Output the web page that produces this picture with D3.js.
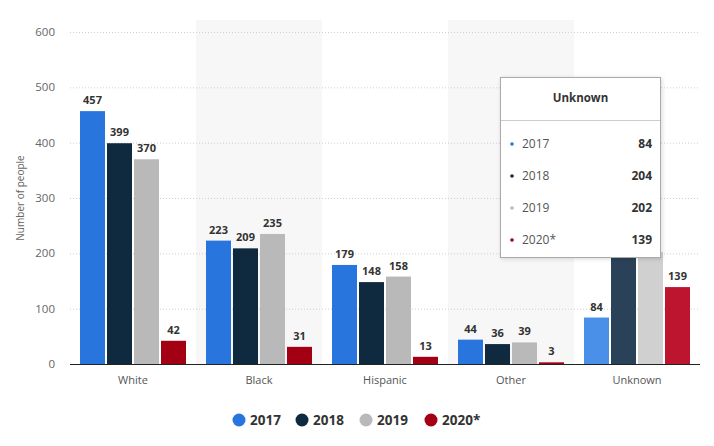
<!DOCTYPE html>
<html><head><meta charset="utf-8">
<script src="https://cdn.jsdelivr.net/npm/d3@7"></script>
<style>
body{margin:0;background:#fff;font-family:"Open Sans",sans-serif;}
svg{display:block}
</style></head>
<body>
<svg id="c" width="714" height="446"></svg>
<script>
const categories = ["White","Black","Hispanic","Other","Unknown"];
const seriesNames = ["2017","2018","2019","2020*"];
const v2017 = [457,223,179,44,84];
const v2018 = [399,209,148,36,204];
const v2019 = [370,235,158,39,202];
const v2020 = [42,31,13,3,139];
const yTicks = [0,100,200,300,400,500,600];
const colors = ["#2876dd","#0f2a3f","#b9b9b9","#a30014"];
const hoverColors = ["#4a90e8","#2a4257","#d0d0d0","#bd1430"];
const hovered = "Unknown";
const series = [v2017,v2018,v2019,v2020];

const svg = d3.select("#c");
const m = {l:70, r:700, t:32, b:364};
const x = d3.scaleBand().domain(categories).range([m.l,m.r]);
const y = d3.scaleLinear().domain([0,600]).range([m.b,m.t]);
const inner = d3.scaleBand().domain(seriesNames).range([0,106]).paddingInner(0.074);
const tip = {x:500.5, y:77.5, w:160, h:180};

// alternating bands
svg.selectAll("rect.bg").data(categories.filter((d,i)=>i%2===1)).enter()
  .append("rect").attr("x",d=>x(d)).attr("y",m.t-12).attr("width",x.bandwidth())
  .attr("height",m.b-m.t+12).attr("fill","#f7f7f7");

// grid
svg.selectAll("line.g").data(yTicks.filter(d=>d>0)).enter().append("line")
  .attr("x1",m.l).attr("x2",m.r).attr("y1",d=>y(d)+0.5).attr("y2",d=>y(d)+0.5)
  .attr("stroke","#cfcfcf").attr("stroke-dasharray","1,2");

// y labels
svg.selectAll("text.yt").data(yTicks).enter().append("text")
  .attr("x",55).attr("y",d=>y(d)+4).attr("text-anchor","end")
  .attr("font-size",11.5).attr("fill","#666").text(d=>d);

svg.append("text").attr("transform",`translate(24,${(m.t+m.b)/2}) rotate(-90)`)
  .attr("text-anchor","middle").attr("font-size",10).attr("fill","#666").text("Number of people");

// bars
const off = (m.r-m.l)/5/2 - 53;
series.forEach((vals,si)=>{
  const g = svg.append("g");
  const data = categories.map((c,i)=>({c,v:vals[i]}));
  g.selectAll("rect").data(data).enter().append("rect")
    .attr("x",d=>x(d.c)+off+inner(seriesNames[si]))
    .attr("y",d=>y(d.v)).attr("width",inner.bandwidth())
    .attr("height",d=>y(0)-y(d.v))
    .attr("fill",d=>d.c===hovered?hoverColors[si]:colors[si]);
  // labels (those hidden beneath the tooltip are not drawn)
  const lx = d=>x(d.c)+off+inner(seriesNames[si])+inner.bandwidth()/2;
  const ly = d=>y(d.v)-7;
  g.selectAll("text").data(data.filter(d=>!(lx(d)>tip.x && lx(d)<tip.x+tip.w && ly(d)>tip.y && ly(d)<tip.y+tip.h+8))).enter().append("text")
    .attr("x",lx).attr("y",ly).attr("text-anchor","middle")
    .attr("font-size",11).attr("font-weight","bold").attr("fill","#333").text(d=>d.v);
});

// axis line
svg.append("line").attr("x1",m.l).attr("x2",m.r).attr("y1",y(0)+0.5).attr("y2",y(0)+0.5)
  .attr("stroke","#222").attr("stroke-width",1);

// x labels
svg.selectAll("text.xl").data(categories).enter().append("text")
  .attr("x",d=>x(d)+x.bandwidth()/2).attr("y",384).attr("text-anchor","middle")
  .attr("font-size",11).attr("fill","#555").text(d=>d);

// legend
const legX = [239,302,366,431];
const leg = svg.append("g");
seriesNames.forEach((s,i)=>{
  leg.append("circle").attr("cx",legX[i]).attr("cy",420).attr("r",6.5).attr("fill",colors[i]);
  leg.append("text").attr("x",legX[i]+11).attr("y",425).attr("font-size",13.5)
    .attr("font-weight","bold").attr("fill","#333").text(s);
});

// tooltip
const tt = svg.append("g");
const defs = svg.append("defs");
const f = defs.append("filter").attr("id","sh").attr("x","-10%").attr("y","-10%").attr("width","130%").attr("height","130%");
f.append("feDropShadow").attr("dx",1).attr("dy",1).attr("stdDeviation",2).attr("flood-color","#000").attr("flood-opacity",0.15);
tt.append("rect").attr("x",tip.x).attr("y",tip.y).attr("width",tip.w).attr("height",tip.h)
  .attr("fill","#fff").attr("stroke","#aaa").attr("filter","url(#sh)");
tt.append("text").attr("x",tip.x+tip.w/2).attr("y",102).attr("text-anchor","middle")
  .attr("font-size",11.5).attr("font-weight","bold").attr("fill","#333").text(hovered);
tt.append("line").attr("x1",501).attr("x2",660).attr("y1",120.5).attr("y2",120.5).attr("stroke","#ccc");
const hi = categories.indexOf(hovered);
seriesNames.forEach((s,i)=>{
  const yy = 148 + i*32;
  tt.append("circle").attr("cx",512).attr("cy",yy-4).attr("r",1.8).attr("fill",colors[i]);
  tt.append("text").attr("x",522).attr("y",yy).attr("font-size",12).attr("fill","#555").text(s);
  tt.append("text").attr("x",652).attr("y",yy).attr("text-anchor","end")
    .attr("font-size",12).attr("font-weight","bold").attr("fill","#333").text(series[i][hi]);
});
</script>
</body></html>
